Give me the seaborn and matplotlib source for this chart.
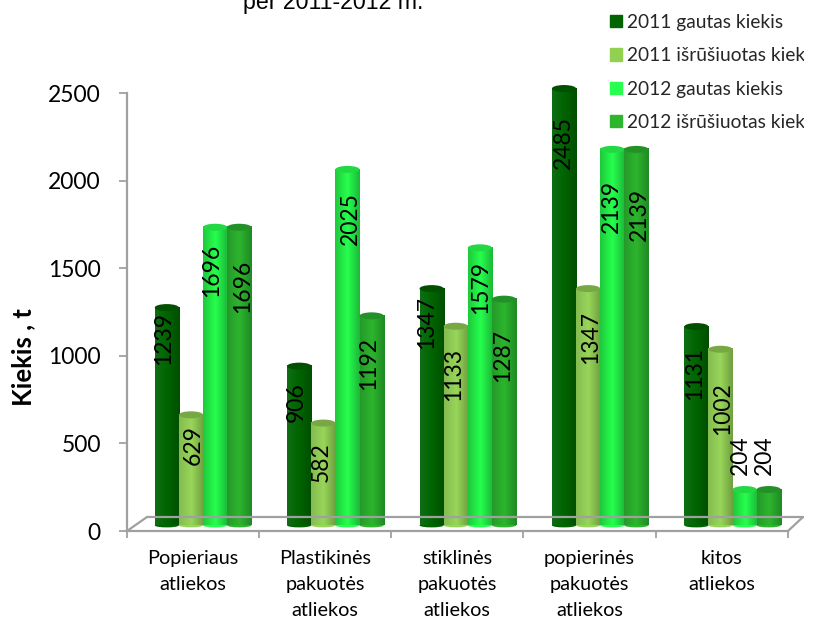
# -*- coding: utf-8 -*-
import numpy as np
import pandas as pd
import matplotlib
matplotlib.use('Agg')
import matplotlib.pyplot as plt
import seaborn as sns
from matplotlib.colors import LinearSegmentedColormap
from matplotlib.lines import Line2D
from matplotlib.patches import Ellipse, Patch
from matplotlib.transforms import Bbox

categories = ['Popieriaus\natliekos', 'Plastikinės\npakuotės\natliekos',
              'stiklinės\npakuotės\natliekos', 'popierinės\npakuotės\natliekos',
              'kitos\natliekos']
series_names = ['2011 gautas kiekis', '2011 išrūšiuotas kiekis',
                '2012 gautas kiekis', '2012 išrūšiuotas kiekis']
gautas_2011 = [1239, 906, 1347, 2485, 1131]
isrusiuotas_2011 = [629, 582, 1133, 1347, 1002]
gautas_2012 = [1696, 2025, 1579, 2139, 204]
isrusiuotas_2012 = [1696, 1192, 1287, 2139, 204]
y_ticks = [0, 500, 1000, 1500, 2000, 2500]

# label distance from the bar top, pixels (the original labels sit unevenly)
label_dy = [[-31, -36, -34, -54, -47],
            [-30, -39, -48, -49, -59],
            [-43, -49, -40, -57, 34],
            [-59, -48, -56, -65, 34]]
label_dx = [[-3, -3, -5, -1, -2],
            [2, -2, -2, 2, 2],
            [-3, 3, 1, -1, -4],
            [3, -3, -1, 3, -4]]

colors = ['#006400', '#92D050', '#26FF4D', '#2DB52D']
# edge / centre / edge of each cylinder
shades = [['#0f6e14', '#006400', '#004f00'],
          ['#84bc50', '#98d65a', '#6f9f40'],
          ['#1fc83c', '#26ff4d', '#1cb838'],
          ['#259a2a', '#2db52d', '#1e8a24']]
top_colors = ['#005000', '#78a844', '#22d944', '#239128']

W, H = 823, 619
sns.set_theme(style='white')
plt.rcParams['font.family'] = ['Lato', 'DejaVu Sans']

df = pd.DataFrame({'kategorija': categories * 4,
                   'serija': np.repeat(series_names, 5),
                   'kiekis': gautas_2011 + isrusiuotas_2011 + gautas_2012 + isrusiuotas_2012})

fig = plt.figure(figsize=(W / 100, H / 100), dpi=100)


def px_axes(x0, x1, y_top, y_bottom):
    return fig.add_axes([x0 / W, 1 - y_bottom / H, (x1 - x0) / W, (y_bottom - y_top) / H])


# front frame of the fake 3D chart
ax = px_axes(126.5, 788, 93, 531)
ax.set_xlim(-0.5, 4.5)
ax.set_ylim(0, 2500)
ax.set_yticks(y_ticks)
ax.tick_params(axis='y', labelsize=16.5, length=6, width=1.3, color='#a0a0a0', pad=12.5,
               labelcolor='black', left=True)
ax.set_xticks(np.arange(-0.5, 5))
ax.set_xticklabels([])
ax.tick_params(axis='x', length=5, width=1.3, color='#a0a0a0', bottom=True)
ax.set_xticks(range(5), minor=True)
ax.set_xticklabels(categories, minor=True, fontsize=14.3, linespacing=1.66, color='black')
ax.tick_params(axis='x', which='minor', length=0, pad=13.5)
for name in ['top', 'right']:
    ax.spines[name].set_visible(False)
for name in ['left', 'bottom']:
    ax.spines[name].set_color('#a0a0a0')
    ax.spines[name].set_linewidth(1.6)

# floor lines
floor = dict(color='#a0a0a0', lw=1.6, transform=fig.transFigure, clip_on=False)
for (xa, ya), (xb, yb) in [((127, 531), (147, 517)), ((147, 517), (803, 517)),
                           ((788, 531), (803, 517))]:
    fig.add_artist(Line2D([xa / W, xb / W], [1 - ya / H, 1 - yb / H], **floor))

ax.set_ylabel('Kiekis , t', fontsize=18.5, fontweight='bold', color='black')
ax.yaxis.set_label_coords((35 - 126.5) / (788 - 126.5), (531 - 357) / (531 - 93))

# bars live in their own axes, shifted up and right like the original depth
bar_ax = px_axes(136.8, 798.8, 85.9, 525.4)
bar_ax.patch.set_alpha(0)
sns.barplot(data=df, x='kategorija', y='kiekis', hue='serija', palette=colors,
            width=0.729, gap=0, legend=False, ax=bar_ax, order=categories,
            hue_order=series_names)
bar_ax.set_xlim(-0.5, 4.5)
bar_ax.set_ylim(0, 2500)
bar_ax.axis('off')

px_per_unit = (525.4 - 85.9) / 2500
bars = bar_ax.patches
for i, bar in enumerate(bars):
    s = i // 5
    c = i % 5
    x0, w, h = bar.get_x(), bar.get_width(), bar.get_height()
    cmap = LinearSegmentedColormap.from_list('cyl', shades[s])
    gradient = np.linspace(0, 1, 64).reshape(1, -1)
    z = 3 + s
    # rounded bottom, gradient body, then the lid
    bottom = Ellipse((x0 + w / 2, 0), w, 4 / px_per_unit, color=shades[s][1], zorder=z,
                     clip_on=False, lw=0)
    bar_ax.add_patch(bottom)
    img = bar_ax.imshow(gradient, extent=(x0, x0 + w, 0, h), aspect='auto', cmap=cmap,
                        zorder=z + 0.1, interpolation='bilinear')
    bar_ax.add_patch(Ellipse((x0 + w / 2, h), w, 7 / px_per_unit, color=top_colors[s],
                             zorder=z + 0.2, clip_on=False, lw=0))
    bar.set_visible(False)
    bar_ax.annotate(str(int(h)), (x0 + w / 2, h),
                    xytext=(label_dx[s][c] * 0.72, label_dy[s][c] * 0.72),
                    textcoords='offset points', rotation=90, ha='center', va='center',
                    fontsize=16.5, color='black', zorder=10, annotation_clip=False)
bar_ax.set_xlim(-0.5, 4.5)
bar_ax.set_ylim(0, 2500)

# title, only its last line fits in the picture
fig.text(333 / W, 1 - 9 / H, 'per 2011-2012 m.', fontsize=16.7, ha='center', va='baseline',
         family=['Liberation Sans'], color='black')

handles = [Patch(color=c, label=n) for c, n in zip(colors, series_names)]
leg = fig.legend(handles=handles, loc='upper left', bbox_to_anchor=(610 / W, 1 - 14 / H),
                 frameon=False, fontsize=13.8, handlelength=0.625, handleheight=0.625,
                 handletextpad=0.26, labelspacing=0.85, borderpad=0, borderaxespad=0)
clip = Bbox([[0, 0], [803.5, H]])
for t in leg.get_texts():
    t.set_clip_box(clip)
    t.set_clip_on(True)

fig.savefig('out.png', dpi=100)
